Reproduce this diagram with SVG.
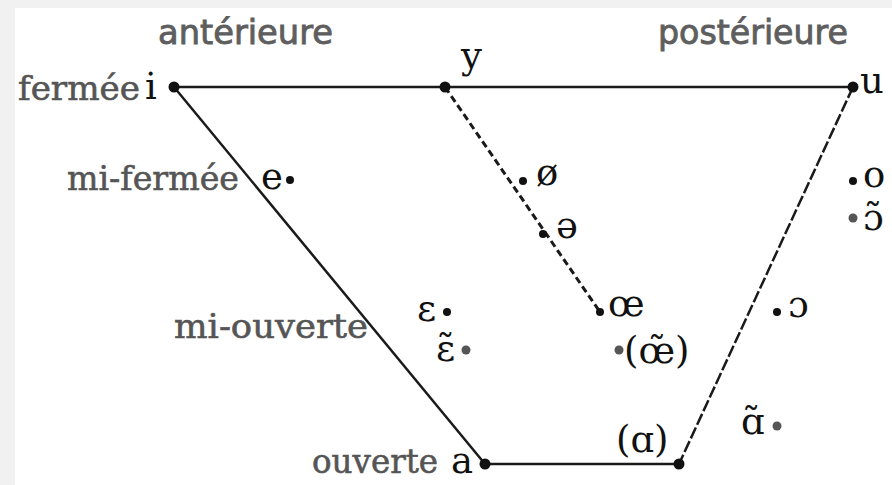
<svg xmlns="http://www.w3.org/2000/svg" width="892" height="485" viewBox="0 0 892 485">
  <style>
    .hdr { font-family: "DejaVu Sans", "Liberation Sans", sans-serif; font-size: 34px; fill: #5e5e5e; stroke: #5e5e5e; stroke-width: 0.9; }
    .lbl { font-family: "DejaVu Serif", "Liberation Serif", serif; font-size: 34px; fill: #555555; stroke: #555555; stroke-width: 0.6; }
    .sym { font-family: "DejaVu Serif", "Liberation Serif", serif; font-size: 37px; fill: #111111; }
    .edge { stroke: #1a1a1a; stroke-width: 2.5; fill: none; }
    .dash { stroke: #1a1a1a; stroke-width: 3; fill: none; stroke-dasharray: 7 4; }
    .rdash { stroke: #1a1a1a; stroke-width: 2.5; fill: none; stroke-dasharray: 12 3; }
    .pt { fill: #111111; }
    .pt2 { fill: #555555; }
  </style>
  <rect x="0" y="0" width="892" height="485" fill="#f1f1f1"/>
  <rect x="15" y="8" width="877" height="477" fill="#ffffff"/>

  <g id="headers">
    <text class="hdr" x="158" y="44" textLength="175" lengthAdjust="spacingAndGlyphs">antérieure</text>
    <text class="hdr" x="658" y="44" textLength="190" lengthAdjust="spacingAndGlyphs">postérieure</text>
  </g>

  <g id="row-labels">
    <text class="lbl" x="18" y="100" textLength="122" lengthAdjust="spacingAndGlyphs">fermée</text>
    <text class="lbl" x="67" y="190" textLength="172" lengthAdjust="spacingAndGlyphs">mi-fermée</text>
    <text class="lbl" x="174" y="338" textLength="194" lengthAdjust="spacingAndGlyphs">mi-ouverte</text>
    <text class="lbl" x="312" y="473" textLength="126" lengthAdjust="spacingAndGlyphs">ouverte</text>
  </g>

  <g id="connectors">
    <line class="edge" x1="174" y1="87" x2="853" y2="87"/>
    <line class="edge" x1="174" y1="87" x2="485" y2="464"/>
    <line class="edge" x1="485" y1="464" x2="679" y2="464" stroke-width="3"/>
    <line class="rdash" x1="853" y1="87" x2="679" y2="464"/>
    <line class="dash" x1="445" y1="87" x2="600" y2="312"/>
  </g>

  <g id="node-i"><circle class="pt" cx="174" cy="87" r="5.5"/><text class="sym" x="145" y="99">i</text></g>
  <g id="node-y"><circle class="pt" cx="445" cy="87" r="5.5"/><text class="sym" x="461" y="68" font-size="38">y</text></g>
  <g id="node-u"><circle class="pt" cx="853" cy="87" r="5.5"/><text class="sym" x="860" y="93">u</text></g>
  <g id="node-a"><circle class="pt" cx="485" cy="464" r="5.5"/><text class="sym" x="451" y="473" font-size="40">a</text></g>
  <g id="node-alpha"><circle class="pt" cx="679" cy="464" r="5.5"/><text class="sym" x="616" y="452" font-size="40">(ɑ)</text></g>

  <g id="node-e"><circle class="pt" cx="290" cy="180" r="4"/><text class="sym" x="261" y="189">e</text></g>
  <g id="node-oe-slash"><circle class="pt" cx="523" cy="181" r="4"/><text class="sym" x="536" y="185">ø</text></g>
  <g id="node-schwa"><circle class="pt" cx="543" cy="234" r="4"/><text class="sym" x="556" y="238">ə</text></g>
  <g id="node-oe"><circle class="pt" cx="600" cy="312" r="4"/><text class="sym" x="608" y="316">œ</text></g>
  <g id="node-oe-nasal"><circle class="pt2" cx="619" cy="350" r="4.5"/><text class="sym" x="624" y="363" font-size="40">(œ̃)</text></g>
  <g id="node-epsilon"><circle class="pt" cx="447" cy="312" r="4"/><text class="sym" x="417" y="321">ɛ</text></g>
  <g id="node-epsilon-nasal"><circle class="pt2" cx="466" cy="350" r="4.5"/><text class="sym" x="436" y="361">ɛ̃</text></g>
  <g id="node-o"><circle class="pt" cx="853" cy="181" r="4"/><text class="sym" x="863" y="187">o</text></g>
  <g id="node-o-nasal"><circle class="pt2" cx="853" cy="218" r="4.5"/><text class="sym" x="863" y="230">ɔ̃</text></g>
  <g id="node-open-o"><circle class="pt" cx="777" cy="312" r="4"/><text class="sym" x="788" y="317">ɔ</text></g>
  <g id="node-alpha-nasal"><circle class="pt2" cx="777" cy="426" r="4.5"/><text class="sym" x="741" y="434">ɑ̃</text></g>
</svg>
